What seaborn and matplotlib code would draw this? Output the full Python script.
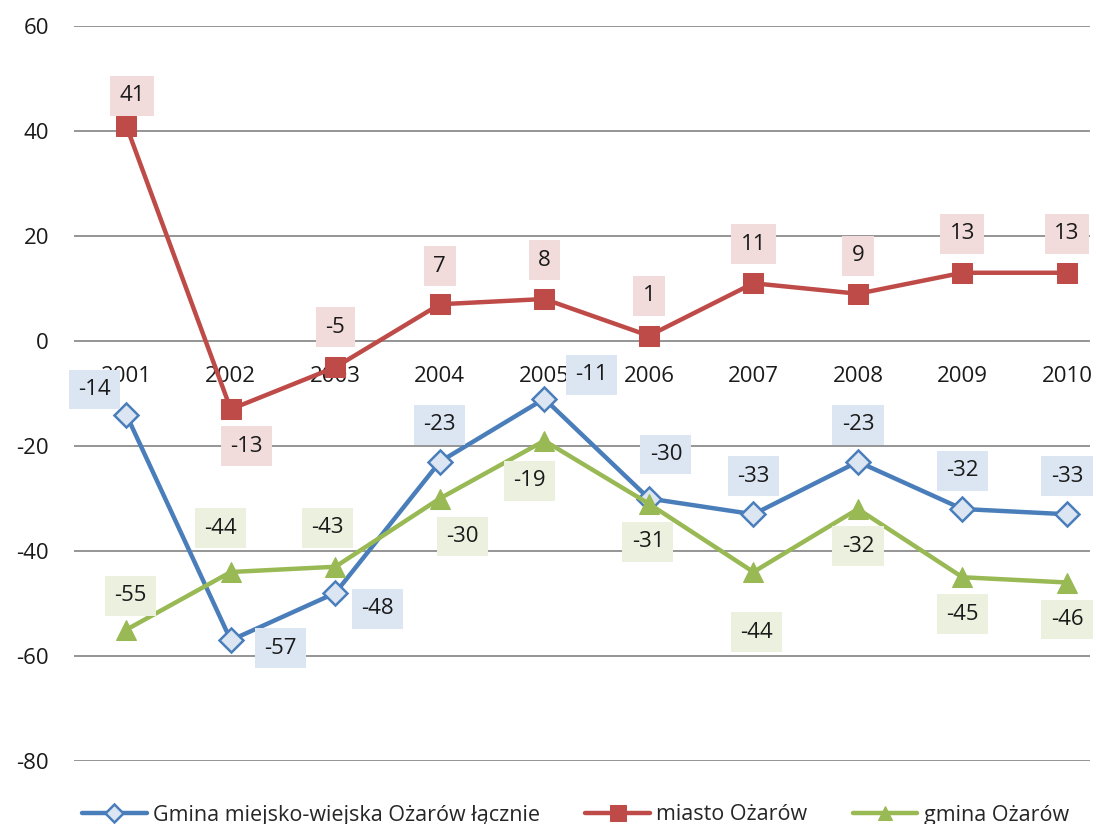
import numpy as np
import pandas as pd
import matplotlib
matplotlib.use('Agg')
import matplotlib.pyplot as plt
import seaborn as sns

years = ['2001', '2002', '2003', '2004', '2005', '2006', '2007', '2008', '2009', '2010']
gmina_lacznie = [-14, -57, -48, -23, -11, -30, -33, -23, -32, -33]
miasto = [41, -13, -5, 7, 8, 1, 11, 9, 13, 13]
gmina = [-55, -44, -43, -30, -19, -31, -44, -32, -45, -46]

# label box offsets from the point, in pixels (dx, dy up)
off_blue = [(-32, 25), (50, -8), (42, -16), (0, 37), (47, 24), (17, 44), (0, 38), (0, 37), (0, 38), (0, 38)]
off_red = [(6, 30), (16, -37), (0, 40), (0, 38), (0, 39), (0, 40), (0, 39), (0, 38), (0, 39), (0, 39)]
off_green = [(4, 34), (-10, 44), (-8, 39), (23, -38), (-15, -40), (-1, -38), (3, -60), (0, -37), (0, -37), (0, -37)]

sns.set_style('white')
plt.rcParams['font.family'] = ['Open Sans', 'DejaVu Sans']
plt.rcParams['axes.unicode_minus'] = False

fig = plt.figure(figsize=(10.96, 8.24), dpi=100)
ax = fig.add_axes([74 / 1096, 1 - 761 / 824, (1090 - 74) / 1096, (761 - 26) / 824])

x = np.arange(len(years))
blue, red, green = '#4A7EBB', '#BE4B48', '#98B954'

sns.lineplot(x=x, y=gmina_lacznie, ax=ax, color=blue, lw=3.2, marker='D', markersize=12,
             markerfacecolor='#DCE6F2', markeredgecolor=blue, markeredgewidth=1.8,
             label='Gmina miejsko-wiejska Ożarów łącznie')
sns.lineplot(x=x, y=miasto, ax=ax, color=red, lw=3.2, marker='s', markersize=14.5,
             markerfacecolor=red, markeredgecolor=red, label='miasto Ożarów')
sns.lineplot(x=x, y=gmina, ax=ax, color=green, lw=3.2, marker='^', markersize=14,
             markerfacecolor=green, markeredgecolor=green, label='gmina Ożarów')

for vals, offs, bg in [(gmina_lacznie, off_blue, '#DCE6F2'),
                       (miasto, off_red, '#F2DCDB'),
                       (gmina, off_green, '#EBF1DE')]:
    for i, v in enumerate(vals):
        ax.annotate(str(v), (x[i], v), xytext=offs[i], textcoords='offset pixels',
                    ha='center', va='center', fontsize=16, color='#1a1a1a',
                    bbox=dict(boxstyle='square,pad=0.42', fc=bg, ec='none'))

ax.set_xlim(-0.5, 9.22)
ax.set_ylim(-80, 60)
ax.set_yticks(range(-80, 61, 20))
ax.set_xticks(x)
ax.set_xticklabels(years)
ax.yaxis.grid(True, color='#8C8C8C', lw=1.3)
ax.set_axisbelow(True)
for s in ax.spines.values():
    s.set_visible(False)
ax.spines['bottom'].set_position(('data', 0))
ax.tick_params(axis='x', length=0, pad=18, labelsize=16, colors='#1a1a1a')
ax.tick_params(axis='y', length=0, pad=18, labelsize=16, colors='#1a1a1a')

ax.get_legend().remove()
h, l = ax.get_legend_handles_labels()
fig.legend(h, l, loc='center', bbox_to_anchor=(0.525, 1 - 815 / 824), ncol=3,
           frameon=False, fontsize=15.5, handlelength=3.0, columnspacing=2.1,
           handletextpad=0.3, markerscale=0.75)

fig.savefig('out.png', dpi=100)
